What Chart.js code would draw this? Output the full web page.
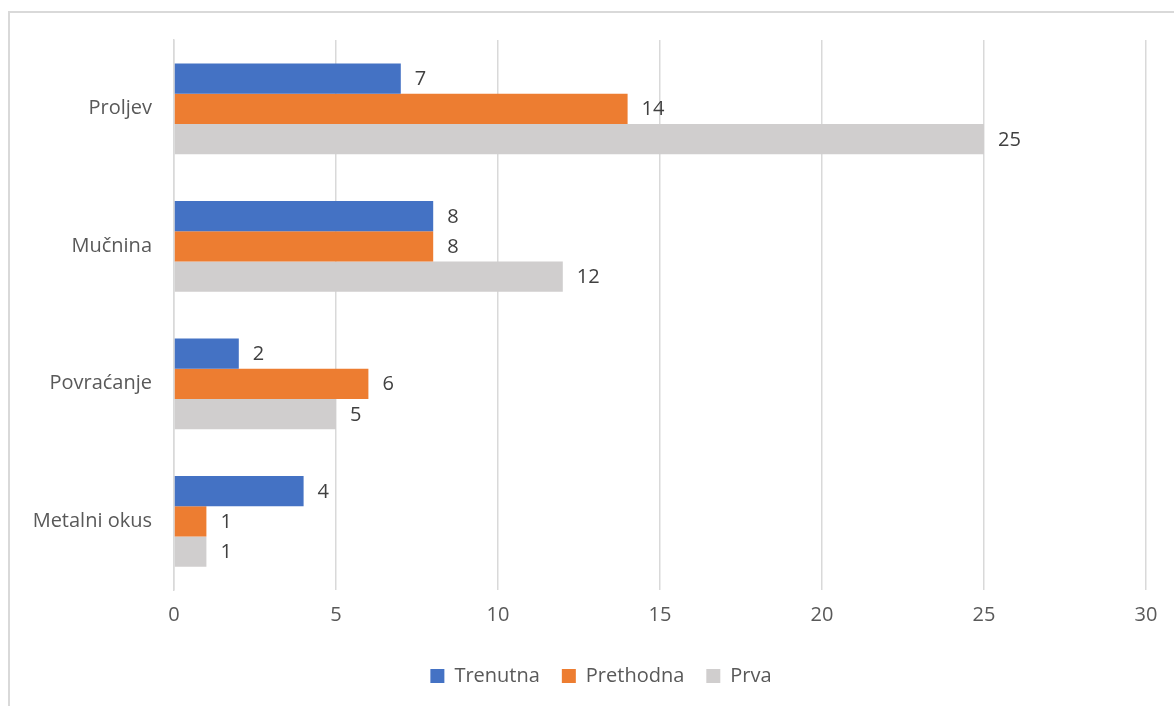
<!DOCTYPE html>
<html>
<head>
<meta charset="utf-8">
<script src="https://cdn.jsdelivr.net/npm/chart.js@4"></script>
<style>
html,body{margin:0;padding:0;background:#fff;overflow:hidden;}
#frame{position:absolute;left:8px;top:11px;width:1200px;height:720px;border-left:2px solid #d9d9d9;border-top:2px solid #d9d9d9;}
#wrap{position:absolute;left:0;top:0;width:1174px;height:706px;}
</style>
</head>
<body>
<div id="frame"></div>
<div id="wrap"><canvas id="c"></canvas></div>
<script>
const categories = ["Proljev", "Mučnina", "Povraćanje", "Metalni okus"];
const seriesNames = ["Trenutna", "Prethodna", "Prva"];
const trenutna = [7, 8, 2, 4];
const prethodna = [14, 8, 6, 1];
const prva = [25, 12, 5, 1];
const xTicks = [0, 5, 10, 15, 20, 25, 30];
const colors = ["#4472C4", "#ED7D31", "#D0CECE"];

const FONT = "'Open Sans', sans-serif";
const FS = 20;

const labelPlugin = {
  id: 'barLabels',
  afterLayout(chart) {
    if (chart.legend) { chart.legend.left += 28; chart.legend.right += 28; }
  },
  afterDatasetsDraw(chart) {
    const ctx = chart.ctx;
    ctx.save();
    ctx.font = FS + "px " + FONT;
    ctx.fillStyle = "#404040";
    ctx.textAlign = "left";
    ctx.textBaseline = "middle";
    chart.data.datasets.forEach((ds, i) => {
      const meta = chart.getDatasetMeta(i);
      meta.data.forEach((bar, j) => {
        ctx.fillText(String(ds.data[j]), bar.x + 14, bar.y + 1);
      });
    });
    ctx.restore();
  }
};

new Chart(document.getElementById('c'), {
  type: 'bar',
  data: {
    labels: categories,
    datasets: [
      { label: seriesNames[0], data: trenutna, backgroundColor: colors[0] },
      { label: seriesNames[1], data: prethodna, backgroundColor: colors[1] },
      { label: seriesNames[2], data: prva, backgroundColor: colors[2] }
    ]
  },
  options: {
    indexAxis: 'y',
    responsive: true,
    maintainAspectRatio: false,
    animation: false,
    devicePixelRatio: 1,
    datasets: { bar: { categoryPercentage: 0.66, barPercentage: 1.0 } },
    layout: { padding: { left: 0, right: 28, top: 40, bottom: 10 } },
    scales: {
      x: {
        min: 0, max: 30,
        afterBuildTicks: s => { s.ticks = xTicks.map(v => ({ value: v })); },
        grid: { color: "#d9d9d9", lineWidth: 1.5, drawTicks: false },
        border: { display: false },
        ticks: { color: "#595959", font: { size: FS, family: FONT }, padding: 13 },
        afterFit: s => { s.height = 54; }
      },
      y: {
        grid: { display: false, drawTicks: false },
        border: { display: true, color: "#d9d9d9", width: 1.5 },
        ticks: { color: "#595959", font: { size: FS, family: FONT }, padding: 22 },
        afterFit: s => { s.width = 174; }
      }
    },
    plugins: {
      legend: {
        position: 'bottom',
        labels: {
          color: "#595959",
          font: { size: FS, family: FONT },
          boxWidth: 14, boxHeight: 14,
          padding: 22
        }
      },
      tooltip: { enabled: false }
    }
  },
  plugins: [labelPlugin]
});
</script>
</body>
</html>
